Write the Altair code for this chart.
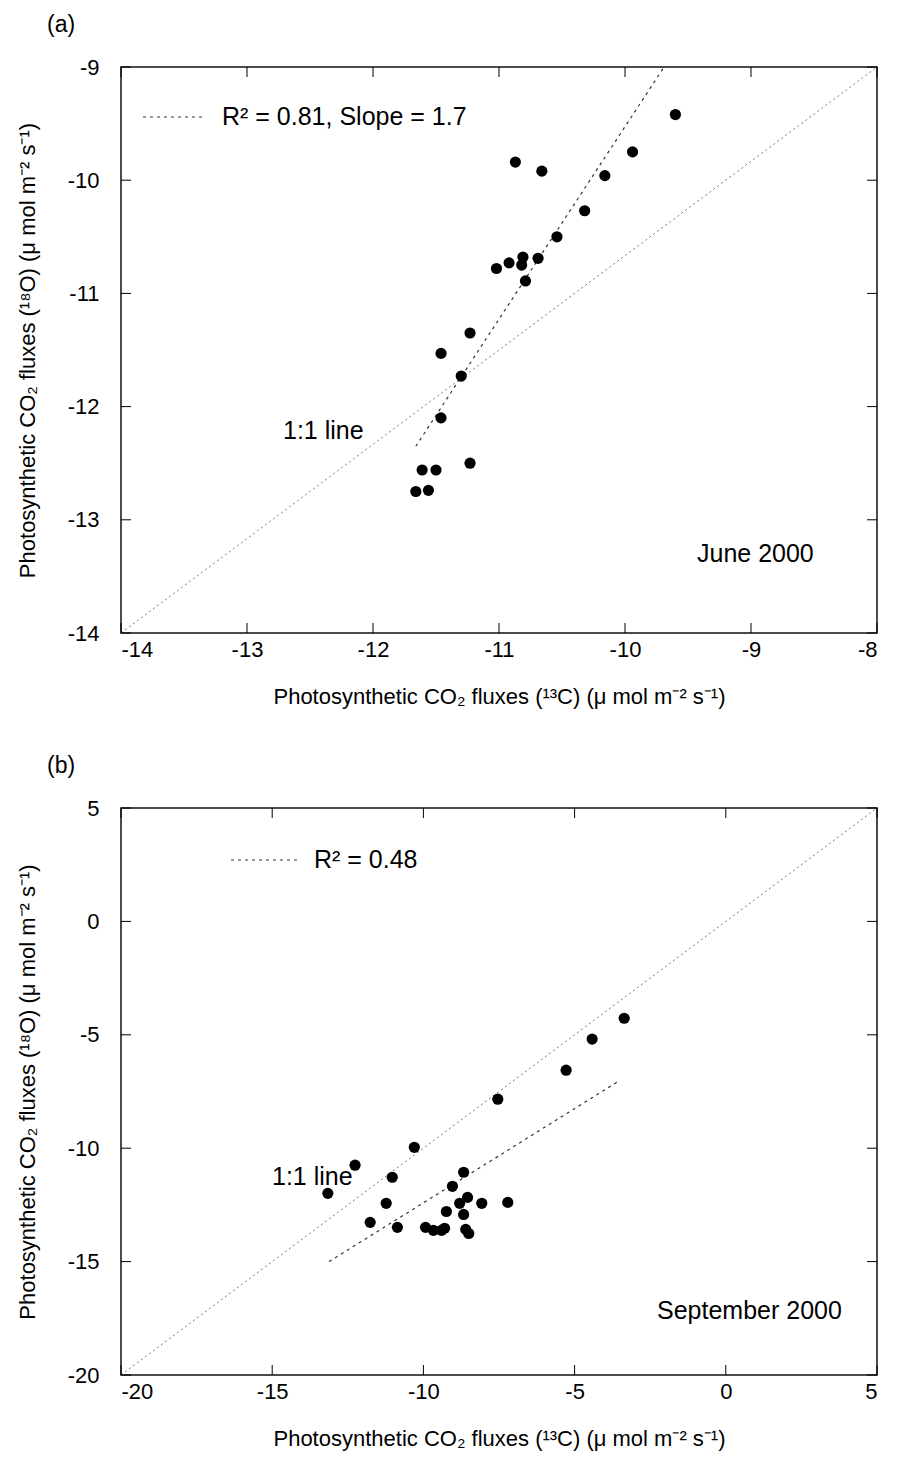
import altair as alt
import pandas as pd

# ---------------- data ----------------
# Panel (a) June 2000
a_x = [-9.60, -9.94, -10.16, -10.87, -10.66, -10.32, -10.54, -10.69, -10.81, -10.82, -10.92,
       -11.02, -10.79, -11.23, -11.46, -11.30, -11.46, -11.23, -11.61, -11.50, -11.66, -11.56]
a_y = [-9.42, -9.75, -9.96, -9.84, -9.92, -10.27, -10.50, -10.69, -10.68, -10.75, -10.73,
       -10.78, -10.89, -11.35, -11.53, -11.73, -12.10, -12.50, -12.56, -12.56, -12.75, -12.74]
a_reg_x = [-11.66, -9.69]
a_reg_y = [-12.35, -9.0]
a_one_x = [-14, -8]
a_one_y = [-14, -9]
a_xticks = [-14, -13, -12, -11, -10, -9, -8]
a_yticks = [-14, -13, -12, -11, -10, -9]

# Panel (b) September 2000
b_x = [-3.36, -4.42, -5.28, -7.54, -10.30, -12.26, -13.16, -11.03, -11.23, -11.76, -10.86, -8.67,
       -9.04, -8.54, -8.80, -8.07, -7.21, -9.24, -8.67, -9.93, -9.67, -9.40, -9.30, -8.60, -8.50]
b_y = [-4.27, -5.19, -6.56, -7.84, -9.96, -10.75, -11.99, -11.28, -12.43, -13.27, -13.49, -11.06,
       -11.68, -12.17, -12.43, -12.43, -12.39, -12.79, -12.92, -13.49, -13.62, -13.62, -13.53, -13.58, -13.76]
b_reg_x = [-13.12, -3.55]
b_reg_y = [-15.0, -7.05]
b_one_x = [-20, 5]
b_one_y = [-20, 5]
b_xticks = [-20, -15, -10, -5, 0, 5]
b_yticks = [-20, -15, -10, -5, 0, 5]

X_TITLE = "Photosynthetic CO\u2082 fluxes (\u00b9\u00b3C) (\u03bc mol m\u207b\u00b2 s\u207b\u00b9)"
Y_TITLE = "Photosynthetic CO\u2082 fluxes (\u00b9\u2078O) (\u03bc mol m\u207b\u00b2 s\u207b\u00b9)"

FONT = "Liberation Sans"
W = 756
ANN = 25

AX = dict(ticks=False, domain=False, grid=False, labelFont=FONT, titleFont=FONT,
          labelFontSize=22, titleFontSize=22, labelColor="black", titleColor="black",
          titleFontWeight="normal", labelExpr="'' + datum.value")


def panel(px, py, rx, ry, ox, oy, xdom, ydom, xt, yt, H, tag, legend_txt, leg, one_pos, date_txt, date_pos):
    xs = alt.Scale(domain=xdom, nice=False, zero=False)
    ys = alt.Scale(domain=ydom, nice=False, zero=False)
    xe = alt.X("x:Q", scale=xs, axis=alt.Axis(values=xt, title=X_TITLE, labelPadding=6,
                                               titlePadding=26, **AX))
    ye = alt.Y("y:Q", scale=ys, axis=alt.Axis(values=yt, title=Y_TITLE, labelPadding=22,
                                               titlePadding=28, **AX))

    pts = alt.Chart(pd.DataFrame({"x": px, "y": py})).mark_circle(
        size=125, color="black", opacity=1).encode(x=xe, y=ye)
    reg = alt.Chart(pd.DataFrame({"x": rx, "y": ry})).mark_line(
        color="#333333", strokeWidth=1.2, strokeDash=[3, 4]).encode(x=xe, y=ye)
    one = alt.Chart(pd.DataFrame({"x": ox, "y": oy})).mark_line(
        color="#777777", strokeWidth=1, strokeDash=[2, 3]).encode(x=xe, y=ye)

    one_row = pd.DataFrame({"k": [0]})
    leg_line = alt.Chart(one_row).mark_rule(
        color="#333333", strokeWidth=1.2, strokeDash=[3, 4]).encode(
        x=alt.value(leg[0]), x2=alt.value(leg[1]), y=alt.value(leg[3]))
    leg_text = alt.Chart(one_row).mark_text(
        align="left", baseline="middle", font=FONT, fontSize=ANN, color="black").encode(
        x=alt.value(leg[2]), y=alt.value(leg[3]), text=alt.value(legend_txt))
    one_text = alt.Chart(one_row).mark_text(
        align="left", baseline="middle", font=FONT, fontSize=ANN, color="black").encode(
        x=alt.value(one_pos[0]), y=alt.value(one_pos[1]), text=alt.value("1:1 line"))
    date_text = alt.Chart(one_row).mark_text(
        align="left", baseline="middle", font=FONT, fontSize=ANN, color="black").encode(
        x=alt.value(date_pos[0]), y=alt.value(date_pos[1]), text=alt.value(date_txt))

    # inward tick marks on all four sides
    xtd = pd.DataFrame({"x": xt})
    ytd = pd.DataFrame({"y": yt})
    tk = dict(color="black", strokeWidth=1)
    t_bottom = alt.Chart(xtd).mark_rule(**tk).encode(x=xe, y=alt.value(H), y2=alt.value(H - 10))
    t_top = alt.Chart(xtd).mark_rule(**tk).encode(x=xe, y=alt.value(0), y2=alt.value(10))
    t_left = alt.Chart(ytd).mark_rule(**tk).encode(y=ye, x=alt.value(0), x2=alt.value(10))
    t_right = alt.Chart(ytd).mark_rule(**tk).encode(y=ye, x=alt.value(W - 10), x2=alt.value(W))

    return alt.layer(one, reg, t_bottom, t_top, t_left, t_right, pts,
                     leg_line, leg_text, one_text, date_text).properties(
        width=W, height=H,
        title=alt.TitleParams(tag, anchor="start", frame="group", dx=-74, offset=19,
                              font=FONT, fontSize=23, fontWeight="normal", color="black"))


pa = panel(a_x, a_y, a_reg_x, a_reg_y, a_one_x, a_one_y, [-14, -8], [-14, -9],
           a_xticks, a_yticks, 566, "(a)", "R\u00b2 = 0.81, Slope = 1.7",
           (22, 84, 101, 50), (162, 364), "June 2000", (576, 487))
pb = panel(b_x, b_y, b_reg_x, b_reg_y, b_one_x, b_one_y, [-20, 5], [-20, 5],
           b_xticks, b_yticks, 567, "(b)", "R\u00b2 = 0.48",
           (110, 180, 193, 52), (151, 369), "September 2000", (536, 503))

chart = alt.vconcat(pa, pb, spacing=46, background="white",
                    padding={"left": 7, "top": 5, "right": 0, "bottom": 5}).configure_view(
    stroke="#111111", strokeWidth=1.5)

chart.save("out.html", embed_options={"renderer": "svg", "actions": False})
